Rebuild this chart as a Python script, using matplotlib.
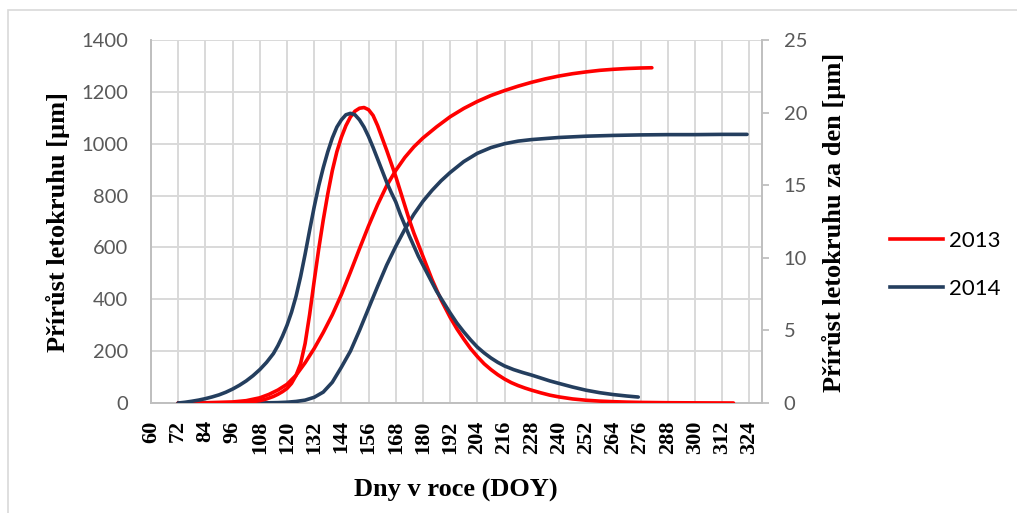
import matplotlib
matplotlib.use("Agg")
import matplotlib.pyplot as plt
from matplotlib.lines import Line2D
from matplotlib.patches import Rectangle

# Cumulative tree-ring growth [µm] (left axis)
days_cum_2013 = [72, 84, 96, 102, 108, 112, 116, 120, 124, 128, 132, 136, 140, 144, 148,
                 152, 156, 160, 164, 168, 172, 176, 180, 186, 192, 198, 204, 210, 216,
                 222, 228, 234, 240, 246, 252, 258, 264, 270, 276, 281]
cum_2013 = [0, 1, 4, 9, 20, 33, 50, 72, 107, 155, 210, 272, 340, 418, 505,
            595, 683, 765, 838, 897, 947, 988, 1022, 1065, 1104, 1136, 1163, 1186, 1205,
            1222, 1237, 1250, 1261, 1270, 1277, 1283, 1287, 1290, 1292, 1293]

days_cum_2014 = [72, 100, 110, 116, 120, 124, 128, 132, 136, 140, 144, 148, 152, 156, 160,
                 164, 168, 172, 176, 180, 184, 188, 192, 198, 204, 210, 216, 222, 228,
                 240, 252, 264, 276, 288, 300, 312, 323]
cum_2014 = [0, 0, 0.5, 1.5, 3, 6, 11, 22, 42, 80, 138, 200, 280, 365, 450,
            532, 604, 670, 728, 778, 820, 857, 889, 931, 963, 985, 1000, 1010, 1016,
            1024, 1029, 1032, 1034, 1035, 1035, 1036, 1036]

# Daily tree-ring growth [µm/day] (right axis)
days_day_2013 = [72, 80, 88, 96, 100, 104, 108, 111, 114, 116, 118, 120, 122, 124, 126,
                 128, 130, 132, 134, 136, 138, 140, 142, 144, 146, 148, 150, 152, 154,
                 156, 158, 160, 162, 164, 166, 168, 170, 172, 174, 176, 178, 180, 182,
                 184, 186, 188, 190, 192, 195, 198, 201, 204, 207, 210, 213, 216, 219,
                 222, 225, 228, 232, 236, 240, 246, 252, 258, 264, 270, 276, 288, 300, 317]
day_2013 = [0, 0, 0.01, 0.02, 0.04, 0.08, 0.16, 0.28, 0.45, 0.6, 0.78, 1.0, 1.35, 1.9, 2.7,
            4.1, 6.1, 8.4, 10.6, 12.6, 14.4, 16.0, 17.3, 18.3, 19.1, 19.7, 20.1, 20.3, 20.35,
            20.2, 19.8, 19.1, 18.25, 17.4, 16.5, 15.6, 14.6, 13.6, 12.6, 11.7, 10.9, 10.1, 9.3,
            8.5, 7.8, 7.1, 6.5, 5.9, 5.1, 4.4, 3.75, 3.2, 2.7, 2.3, 1.95, 1.65, 1.4,
            1.2, 1.03, 0.88, 0.7, 0.54, 0.42, 0.28, 0.19, 0.13, 0.09, 0.06, 0.04, 0.02, 0.01, 0]

days_day_2014 = [72, 75, 78, 81, 84, 87, 90, 93, 96, 99, 102, 105, 108, 111, 114, 116,
                 118, 120, 122, 124, 126, 128, 130, 132, 134, 136, 138, 140, 142, 144,
                 146, 148, 150, 152, 154, 156, 158, 160, 162, 164, 166, 168, 170, 172,
                 174, 176, 178, 180, 182, 184, 186, 188, 190, 192, 195, 198, 201, 204,
                 207, 210, 213, 216, 220, 224, 228, 232, 236, 240, 246, 252, 258, 264,
                 270, 275]
day_2014 = [0, 0.05, 0.12, 0.2, 0.3, 0.42, 0.56, 0.74, 0.96, 1.22, 1.52, 1.88, 2.3, 2.8,
            3.4, 3.95, 4.6, 5.35, 6.25, 7.35, 8.7, 10.25, 11.9, 13.5, 14.95, 16.2, 17.3, 18.25,
            19.0, 19.5, 19.85, 19.95, 19.85, 19.5, 19.0, 18.35, 17.6, 16.8, 16.0, 15.2,
            14.5, 13.85, 13.0, 12.25, 11.5, 10.8, 10.1, 9.5, 8.9, 8.3, 7.7, 7.2, 6.7, 6.2,
            5.5, 4.9, 4.35, 3.85, 3.45, 3.1, 2.8, 2.55, 2.3, 2.1, 1.92, 1.72, 1.52, 1.35,
            1.1, 0.88, 0.71, 0.58, 0.48, 0.41]

x_ticks = list(range(60, 325, 12))
left_ticks = list(range(0, 1401, 200))
right_ticks = list(range(0, 26, 5))
years = ["2013", "2014"]
colors = {"2013": "#FF0000", "2014": "#243E5E"}

W, H = 1017, 513
fig = plt.figure(figsize=(W / 100, H / 100), dpi=100)
fig.patch.set_facecolor("white")

ax = fig.add_axes([151 / W, 1 - 403 / H, (762 - 151) / W, (403 - 40) / H])
ax2 = ax.twinx()

grid_c = "#D9D9D9"
spine_c = "#BFBFBF"
tick_c = "#595959"
lw = 2.6

ax.set_xlim(60, 329.6)
ax.set_ylim(0, 1400)
ax2.set_ylim(0, 25)

ax.set_xticks(x_ticks)
ax.set_yticks(left_ticks)
ax2.set_yticks(right_ticks)
ax.grid(True, color=grid_c, lw=1.4, zorder=0)
ax.set_axisbelow(True)

line_kw = dict(lw=lw, solid_capstyle="round", solid_joinstyle="round", zorder=3)
ax.plot(days_cum_2013, cum_2013, color=colors["2013"], **line_kw)
ax.plot(days_cum_2014, cum_2014, color=colors["2014"], **line_kw)
ax2.plot(days_day_2013, day_2013, color=colors["2013"], **line_kw)
ax2.plot(days_day_2014, day_2014, color=colors["2014"], **line_kw)

for a in (ax, ax2):
    a.spines["top"].set_visible(False)
    for s in ("left", "right", "bottom"):
        a.spines[s].set_color(spine_c)
        a.spines[s].set_linewidth(1.4)
ax.spines["right"].set_visible(False)
ax2.spines["left"].set_visible(False)
ax2.spines["bottom"].set_visible(False)

ax.tick_params(axis="y", length=0, pad=16.5, labelsize=14.5, labelcolor=tick_c)
ax.tick_params(axis="x", length=0, pad=12.5)
for lab in ax.get_yticklabels():
    lab.set_fontfamily("Lato")
ax.set_xticklabels([str(t) for t in x_ticks], rotation=90, fontsize=16,
                   fontweight="bold", family="Liberation Serif", va="top", ha="center")
ax2.tick_params(axis="y", length=5, width=1.3, color=spine_c, pad=10.5,
                labelsize=14.5, labelcolor=tick_c)
for lab in ax2.get_yticklabels():
    lab.set_fontfamily("Lato")

title_font = dict(family="Liberation Serif", fontweight="bold", fontsize=19, color="black")
fig.text(58 / W, 1 - 222 / H, "Přírůst letokruhu [µm]", rotation=90,
         ha="center", va="center", **title_font)
fig.text(834 / W, 1 - 222 / H, "Přírůst letokruhu za den [µm]", rotation=90,
         ha="center", va="center", **title_font)
fig.text(456 / W, 1 - 490 / H, "Dny v roce (DOY)", ha="center", va="center", **title_font)

handles = [Line2D([], [], color=colors[y], lw=lw) for y in years]
fig.legend(handles, years, loc="center left", bbox_to_anchor=(890 / W, 1 - 265 / H),
           frameon=False, handlelength=2.4, handletextpad=0.25, labelspacing=1.25,
           borderpad=0, borderaxespad=0, prop={"family": "Lato", "size": 16})

# outer chart frame
fig.add_artist(Rectangle((8 / W, -0.1), 1.2, 1.1 - 10 / H, transform=fig.transFigure,
                         fill=False, edgecolor="#D9D9D9", lw=1.2))

fig.savefig("out.png", dpi=100, facecolor="white")
